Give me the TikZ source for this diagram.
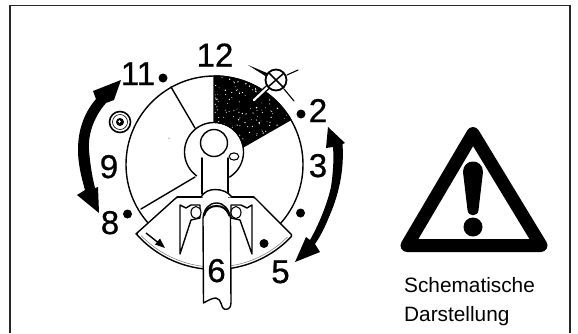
\documentclass[tikz,border=0pt]{standalone}
\usepackage{fontspec}
\setmainfont{Liberation Sans}
\newfontfamily\numfont[FakeBold=0.7]{Liberation Sans}
\begin{document}
\begin{tikzpicture}[x=1pt,y=-1pt,
  num/.style={anchor=base,inner sep=0pt,font=\numfont\fontsize{33}{33}\selectfont},
  captext/.style={anchor=base west,inner sep=0pt,font=\fontsize{20.8}{21}\selectfont},
  ln/.style={draw=black,line width=1.4pt,line join=round,line cap=round},
  thin1/.style={draw=black,line width=1.1pt,line cap=round},
  dot1/.style={circle,fill=black,inner sep=0pt,minimum size=9pt}]
\useasboundingbox (0,0) rectangle (578,333);
\fill[white] (0,0) rectangle (578,333);
\draw[draw=black!85,line width=1.3pt] (10,333) -- (10,5.5) -- (570,5.5) -- (570,333);
% dial
\coordinate (dial) at (214.5,164.5);
\draw[ln] (dial) circle[radius=88.5];
% dark sector
\begin{scope}
\path[clip] (214,123) -- (214,76) -- plot[domain=270:329.5,samples=30] ({214.5+88.5*cos(\x)},{164.5+88.5*sin(\x)}) -- (243,147) -- cycle;
\fill[black] (200,70) rectangle (300,150);
\pgfmathsetseed{11}
\foreach \i in {1,...,170}{
  \pgfmathsetmacro\rx{214+76*rnd}
  \pgfmathsetmacro\ry{76+71*rnd}
  \pgfmathsetmacro\rr{0.35+0.45*rnd}
  \fill[white] (\rx,\ry) circle[radius=\rr];
}
\end{scope}
\draw[ln] (214,123) -- (214,76) -- plot[domain=270:329.5,samples=30] ({214.5+88.5*cos(\x)},{164.5+88.5*sin(\x)}) -- (243,147);
% sector lines
\draw[ln] (171,87) -- (195,128);
\draw[ln] (141,209) -- (195,177);
% hub
\fill[white] (214,152) circle[radius=29];
\draw[ln] plot[domain=126:418,samples=60] ({214+29.5*cos(\x)},{152+29.5*sin(\x)});
\draw[ln] (214,143) circle[radius=13.5];
\draw[thin1] (234,156.5) ellipse[x radius=4.8,y radius=3.6];
\fill (169,138) circle[radius=.5];
% guard
\draw[ln,fill=white,rounded corners=1.5pt] (177,197) -- (137,233)
  -- plot[domain=138.7:42.5,samples=50] ({215+105*cos(\x)},{164.5+105*sin(\x)})
  -- (254,197) -- cycle;
\draw[draw=black!55,line width=.5pt] plot[domain=136:45,samples=50] ({215+102.5*cos(\x)},{164.5+102.5*sin(\x)});
% tube
\fill[white] (202.5,158) rectangle (228,200);
\draw[ln] (202,158) -- (202,194);
\draw[ln] (228,158) -- (228,194);
\fill[white] (204,212) rectangle (230,300);
\draw[ln,fill=white] (201,197) .. controls (204,192) and (209,189.5) .. (215,189.5) .. controls (222,189.5) and (228,192) .. (232,197);
% forks
\draw[ln,fill=white] (180,205) -- (186,208) -- (191,205) -- (200,205) -- (200,218) -- (191,220) -- (180,254) -- cycle;
\draw[ln,fill=white] (252,205) -- (247,208) -- (241,205) -- (231,205) -- (231,218) -- (240,220) -- (252,254) -- cycle;
\draw[thin1,fill=white] (196,212.5) ellipse[x radius=5,y radius=6];
\draw[thin1,fill=white] (236,212.5) ellipse[x radius=5,y radius=6];
% tube lower and arch
\draw[ln,fill=white] (203,218) .. controls (204,209) and (209,203) .. (216.5,203) .. controls (224,203) and (229,209) .. (230.5,218)
  -- (231,303) .. controls (231,309) and (227,310) .. (224,309) .. controls (221,308) and (222,299) .. (216,298) .. controls (212,298) and (207,301) .. (203.5,303) -- cycle;
\draw[draw=black,line width=2pt] (204,216) .. controls (206,209) and (210,206) .. (216.5,206) .. controls (223,206) and (227,209) .. (229.5,216);
\draw[ln] (201,197) -- (177,197);
\draw[ln] (232,197) -- (254,197);
% guard arrow
\draw[line width=1.4pt] (146,233) -- (160,244);
\fill (165,248) -- (155,244.5) -- (160,238.5) -- cycle;
% bold arrows
\fill (121,80) -- (114,100) -- (106,103) .. controls (93,118) and (88,135) .. (89,150)
  .. controls (90,163) and (92,176) .. (95,188) -- (98,187) -- (99,213) -- (77,195) -- (85,190)
  .. controls (81,176) and (78,163) .. (78,150) .. controls (78,130) and (84,113) .. (96,99) -- (93,91) -- cycle;
\fill (328,127) -- (345,143) -- (342.5,144) .. controls (344,165) and (341,190) .. (329,217)
  .. controls (325,227) and (320,237) .. (315,244) -- (320,252) -- (295,262) -- (306,237) -- (310,240)
  .. controls (318,226) and (327,205) .. (331,187) .. controls (333,173) and (334,160) .. (333,147) -- (326,148) -- cycle;
% screws
\draw[draw=black,line width=1.6pt] (120,122) circle[radius=10.5];
\draw[draw=black,line width=.6pt] (120,122) circle[radius=7.5];
\fill (120,122) circle[radius=4];
\fill[white] (119.5,121.5) circle[radius=1.4];
\draw[draw=black,line width=5pt,line cap=round] (270,85) -- (254,100);
\draw[draw=white,line width=2.2pt,line cap=round] (271,84) -- (254,100);
\draw[draw=white,line width=4pt] (283,88) -- (294,101);
\draw[thin1] (284,89) -- (294,101);
\draw[draw=black,line width=1.8pt,fill=white] (276,80) circle[radius=10.5];
\draw[draw=black,line width=1.5pt] (269,73) -- (284,88);
\draw[draw=black,line width=1.5pt] (268,87) -- (284,73);
\fill (248,65) -- (267,73) -- (266,76.5) -- cycle;
\draw[thin1] (287,75) -- (298,70);
% dots
\node[dot1] (d1) at (163,78) {};
\node[dot1] (d2) at (301,114) {};
\node[dot1] (d3) at (127.5,214) {};
\node[dot1] (d4) at (300.5,213) {};
\node[dot1] (d5) at (264,243.5) {};
% numbers
\node[num] (n12) at (215,66.5) {12};
\node[num] (n11) at (138,85) {11};
\node[num] (n2) at (318,122) {2};
\node[num] (n3) at (318,177) {3};
\node[num] (n9) at (109,178) {9};
\node[num] (n8) at (110,234) {8};
\node[num] (n6) at (216.5,282) {6};
\node[num] (n5) at (280.5,283) {5};
% warning
\draw[draw=black,line width=13pt,line join=round] (473,133.5) -- (407,245.5) -- (541,245.5) -- cycle;
\fill (463,172) .. controls (463,158) and (483,158) .. (483,172) -- (478.5,210) .. controls (478,217) and (468,217) .. (467.5,210) -- cycle;
\fill (473,227) circle[radius=9.5];
\node[captext] (t1) at (404,292) {Schematische};
\node[captext] (t2) at (404,321) {Darstellung};
\end{tikzpicture}
\end{document}
